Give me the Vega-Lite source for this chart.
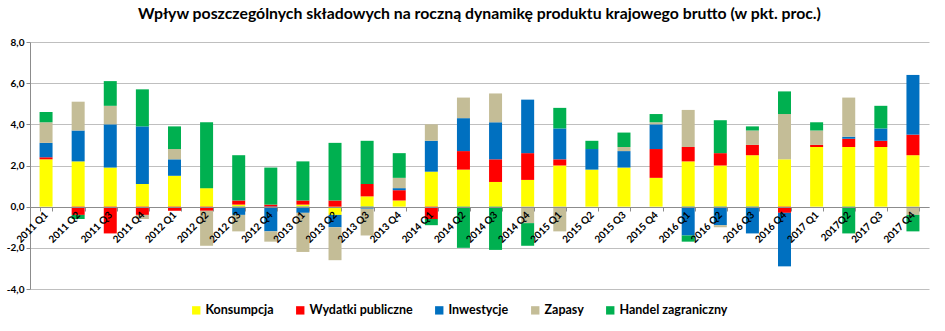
{
  "$schema": "https://vega.github.io/schema/vega-lite/v6.json",
  "width": 899,
  "height": 247,
  "padding": {"left": 6, "top": 6, "right": 10, "bottom": 5},
  "background": "white",
  "title": {
    "text": "Wpływ poszczególnych składowych na roczną dynamikę produktu krajowego brutto (w pkt. proc.)",
    "font": "Lato",
    "fontSize": 15.8,
    "fontWeight": "bold",
    "color": "#000000",
    "anchor": "middle",
    "offset": 14
  },
  "config": {
    "view": {"stroke": null},
    "font": "Lato"
  },
  "data": {
    "values": [
      {"q":"2011 Q1","s":"Konsumpcja","v":2.3},{"q":"2011 Q1","s":"Wydatki publiczne","v":0.1},{"q":"2011 Q1","s":"Inwestycje","v":0.7},{"q":"2011 Q1","s":"Zapasy","v":1.0},{"q":"2011 Q1","s":"Handel zagraniczny","v":0.5},
      {"q":"2011 Q2","s":"Konsumpcja","v":2.2},{"q":"2011 Q2","s":"Wydatki publiczne","v":-0.4},{"q":"2011 Q2","s":"Inwestycje","v":1.5},{"q":"2011 Q2","s":"Zapasy","v":1.4},{"q":"2011 Q2","s":"Handel zagraniczny","v":-0.2},
      {"q":"2011 Q3","s":"Konsumpcja","v":1.9},{"q":"2011 Q3","s":"Wydatki publiczne","v":-1.3},{"q":"2011 Q3","s":"Inwestycje","v":2.1},{"q":"2011 Q3","s":"Zapasy","v":0.9},{"q":"2011 Q3","s":"Handel zagraniczny","v":1.2},
      {"q":"2011 Q4","s":"Konsumpcja","v":1.1},{"q":"2011 Q4","s":"Wydatki publiczne","v":-0.4},{"q":"2011 Q4","s":"Inwestycje","v":2.8},{"q":"2011 Q4","s":"Zapasy","v":-0.2},{"q":"2011 Q4","s":"Handel zagraniczny","v":1.8},
      {"q":"2012 Q1","s":"Konsumpcja","v":1.5},{"q":"2012 Q1","s":"Wydatki publiczne","v":-0.2},{"q":"2012 Q1","s":"Inwestycje","v":0.8},{"q":"2012 Q1","s":"Zapasy","v":0.5},{"q":"2012 Q1","s":"Handel zagraniczny","v":1.1},
      {"q":"2012 Q2","s":"Konsumpcja","v":0.9},{"q":"2012 Q2","s":"Wydatki publiczne","v":-0.2},{"q":"2012 Q2","s":"Inwestycje","v":0.0},{"q":"2012 Q2","s":"Zapasy","v":-1.7},{"q":"2012 Q2","s":"Handel zagraniczny","v":3.2},
      {"q":"2012 Q3","s":"Konsumpcja","v":0.1},{"q":"2012 Q3","s":"Wydatki publiczne","v":0.2},{"q":"2012 Q3","s":"Inwestycje","v":-0.4},{"q":"2012 Q3","s":"Zapasy","v":-0.8},{"q":"2012 Q3","s":"Handel zagraniczny","v":2.2},
      {"q":"2012 Q4","s":"Konsumpcja","v":0.0},{"q":"2012 Q4","s":"Wydatki publiczne","v":0.1},{"q":"2012 Q4","s":"Inwestycje","v":-1.2},{"q":"2012 Q4","s":"Zapasy","v":-0.5},{"q":"2012 Q4","s":"Handel zagraniczny","v":1.8},
      {"q":"2013 Q1","s":"Konsumpcja","v":0.1},{"q":"2013 Q1","s":"Wydatki publiczne","v":0.2},{"q":"2013 Q1","s":"Inwestycje","v":-0.3},{"q":"2013 Q1","s":"Zapasy","v":-1.9},{"q":"2013 Q1","s":"Handel zagraniczny","v":1.9},
      {"q":"2013 Q2","s":"Konsumpcja","v":-0.4},{"q":"2013 Q2","s":"Wydatki publiczne","v":0.3},{"q":"2013 Q2","s":"Inwestycje","v":-0.6},{"q":"2013 Q2","s":"Zapasy","v":-1.6},{"q":"2013 Q2","s":"Handel zagraniczny","v":2.8},
      {"q":"2013 Q3","s":"Konsumpcja","v":0.5},{"q":"2013 Q3","s":"Wydatki publiczne","v":0.6},{"q":"2013 Q3","s":"Inwestycje","v":-0.1},{"q":"2013 Q3","s":"Zapasy","v":-1.3},{"q":"2013 Q3","s":"Handel zagraniczny","v":2.1},
      {"q":"2013 Q4","s":"Konsumpcja","v":0.3},{"q":"2013 Q4","s":"Wydatki publiczne","v":0.5},{"q":"2013 Q4","s":"Inwestycje","v":0.1},{"q":"2013 Q4","s":"Zapasy","v":0.5},{"q":"2013 Q4","s":"Handel zagraniczny","v":1.2},
      {"q":"2014 Q1","s":"Konsumpcja","v":1.7},{"q":"2014 Q1","s":"Wydatki publiczne","v":-0.6},{"q":"2014 Q1","s":"Inwestycje","v":1.5},{"q":"2014 Q1","s":"Zapasy","v":0.8},{"q":"2014 Q1","s":"Handel zagraniczny","v":-0.3},
      {"q":"2014 Q2","s":"Konsumpcja","v":1.8},{"q":"2014 Q2","s":"Wydatki publiczne","v":0.9},{"q":"2014 Q2","s":"Inwestycje","v":1.6},{"q":"2014 Q2","s":"Zapasy","v":1.0},{"q":"2014 Q2","s":"Handel zagraniczny","v":-2.0},
      {"q":"2014 Q3","s":"Konsumpcja","v":1.2},{"q":"2014 Q3","s":"Wydatki publiczne","v":1.1},{"q":"2014 Q3","s":"Inwestycje","v":1.8},{"q":"2014 Q3","s":"Zapasy","v":1.4},{"q":"2014 Q3","s":"Handel zagraniczny","v":-2.1},
      {"q":"2014 Q4","s":"Konsumpcja","v":1.3},{"q":"2014 Q4","s":"Wydatki publiczne","v":1.3},{"q":"2014 Q4","s":"Inwestycje","v":2.6},{"q":"2014 Q4","s":"Zapasy","v":-0.8},{"q":"2014 Q4","s":"Handel zagraniczny","v":-1.1},
      {"q":"2015 Q1","s":"Konsumpcja","v":2.0},{"q":"2015 Q1","s":"Wydatki publiczne","v":0.3},{"q":"2015 Q1","s":"Inwestycje","v":1.5},{"q":"2015 Q1","s":"Zapasy","v":-1.2},{"q":"2015 Q1","s":"Handel zagraniczny","v":1.0},
      {"q":"2015 Q2","s":"Konsumpcja","v":1.8},{"q":"2015 Q2","s":"Wydatki publiczne","v":0.0},{"q":"2015 Q2","s":"Inwestycje","v":1.0},{"q":"2015 Q2","s":"Zapasy","v":0.0},{"q":"2015 Q2","s":"Handel zagraniczny","v":0.4},
      {"q":"2015 Q3","s":"Konsumpcja","v":1.9},{"q":"2015 Q3","s":"Wydatki publiczne","v":0.0},{"q":"2015 Q3","s":"Inwestycje","v":0.8},{"q":"2015 Q3","s":"Zapasy","v":0.2},{"q":"2015 Q3","s":"Handel zagraniczny","v":0.7},
      {"q":"2015 Q4","s":"Konsumpcja","v":1.4},{"q":"2015 Q4","s":"Wydatki publiczne","v":1.4},{"q":"2015 Q4","s":"Inwestycje","v":1.2},{"q":"2015 Q4","s":"Zapasy","v":0.1},{"q":"2015 Q4","s":"Handel zagraniczny","v":0.4},
      {"q":"2016 Q1","s":"Konsumpcja","v":2.2},{"q":"2016 Q1","s":"Wydatki publiczne","v":0.7},{"q":"2016 Q1","s":"Inwestycje","v":-1.4},{"q":"2016 Q1","s":"Zapasy","v":1.8},{"q":"2016 Q1","s":"Handel zagraniczny","v":-0.3},
      {"q":"2016 Q2","s":"Konsumpcja","v":2.0},{"q":"2016 Q2","s":"Wydatki publiczne","v":0.6},{"q":"2016 Q2","s":"Inwestycje","v":-0.9},{"q":"2016 Q2","s":"Zapasy","v":-0.1},{"q":"2016 Q2","s":"Handel zagraniczny","v":1.6},
      {"q":"2016 Q3","s":"Konsumpcja","v":2.5},{"q":"2016 Q3","s":"Wydatki publiczne","v":0.5},{"q":"2016 Q3","s":"Inwestycje","v":-1.3},{"q":"2016 Q3","s":"Zapasy","v":0.7},{"q":"2016 Q3","s":"Handel zagraniczny","v":0.2},
      {"q":"2016 Q4","s":"Konsumpcja","v":2.3},{"q":"2016 Q4","s":"Wydatki publiczne","v":-0.3},{"q":"2016 Q4","s":"Inwestycje","v":-2.6},{"q":"2016 Q4","s":"Zapasy","v":2.2},{"q":"2016 Q4","s":"Handel zagraniczny","v":1.1},
      {"q":"2017 Q1","s":"Konsumpcja","v":2.9},{"q":"2017 Q1","s":"Wydatki publiczne","v":0.1},{"q":"2017 Q1","s":"Inwestycje","v":0.0},{"q":"2017 Q1","s":"Zapasy","v":0.7},{"q":"2017 Q1","s":"Handel zagraniczny","v":0.4},
      {"q":"2017Q2","s":"Konsumpcja","v":2.9},{"q":"2017Q2","s":"Wydatki publiczne","v":0.4},{"q":"2017Q2","s":"Inwestycje","v":0.1},{"q":"2017Q2","s":"Zapasy","v":1.9},{"q":"2017Q2","s":"Handel zagraniczny","v":-1.3},
      {"q":"2017 Q3","s":"Konsumpcja","v":2.9},{"q":"2017 Q3","s":"Wydatki publiczne","v":0.3},{"q":"2017 Q3","s":"Inwestycje","v":0.6},{"q":"2017 Q3","s":"Zapasy","v":0.0},{"q":"2017 Q3","s":"Handel zagraniczny","v":1.1},
      {"q":"2017 Q4","s":"Konsumpcja","v":2.5},{"q":"2017 Q4","s":"Wydatki publiczne","v":1.0},{"q":"2017 Q4","s":"Inwestycje","v":2.9},{"q":"2017 Q4","s":"Zapasy","v":-0.4},{"q":"2017 Q4","s":"Handel zagraniczny","v":-0.8}
    ]
  },
  "transform": [
    {"calculate": "indexof(['Konsumpcja', 'Wydatki publiczne', 'Inwestycje', 'Zapasy', 'Handel zagraniczny'], datum.s)", "as": "ord"}
  ],
  "mark": {"type": "bar", "width": 13},
  "encoding": {
    "x": {
      "field": "q",
      "type": "nominal",
      "sort": null,
      "title": null,
      "scale": {"paddingInner": 0.6, "paddingOuter": 0.3},
      "axis": {
        "offset": -82,
        "zindex": 1,
        "labelAngle": -45,
        "labelAlign": "right",
        "labelBaseline": "middle",
        "labelFont": "Lato",
        "labelFontSize": 10,
        "labelFontWeight": "bold",
        "labelColor": "#000000",
        "labelPadding": 2,
        "domainColor": "#8c8c8c",
        "tickColor": "#8c8c8c",
        "tickBand": "extent",
        "tickSize": 4,
        "labelOverlap": false
      }
    },
    "y": {
      "field": "v",
      "type": "quantitative",
      "stack": "zero",
      "title": null,
      "scale": {"domain": [-4, 8], "nice": false},
      "axis": {
        "values": [-4, -2, 0, 2, 4, 6, 8],
        "labelExpr": "datum.value < 0 ? '-' + replace(format(-datum.value, '.1f'), '.', ',') : replace(format(datum.value, '.1f'), '.', ',')",
        "labelFont": "Lato",
        "labelFontSize": 10,
        "labelFontWeight": "bold",
        "labelColor": "#000000",
        "gridColor": "#bfbfbf",
        "gridWidth": 1,
        "domainColor": "#8c8c8c",
        "tickColor": "#8c8c8c",
        "tickSize": 4
      }
    },
    "color": {
      "field": "s",
      "type": "nominal",
      "scale": {
        "domain": ["Konsumpcja", "Wydatki publiczne", "Inwestycje", "Zapasy", "Handel zagraniczny"],
        "range": ["#FFFF00", "#FF0000", "#0070C0", "#C4BD97", "#00B050"]
      },
      "legend": {
        "title": null,
        "orient": "none",
        "legendX": 160,
        "legendY": 262,
        "direction": "horizontal",
        "symbolType": "square",
        "symbolSize": 70,
        "symbolStrokeWidth": 0,
        "symbolOffset": 0,
        "labelOffset": 3,
        "labelFont": "Lato",
        "labelFontSize": 12.5,
        "labelFontWeight": "bold",
        "labelColor": "#000000",
        "columnPadding": 20
      }
    },
    "order": {"field": "ord", "type": "quantitative", "sort": "ascending"}
  }
}
